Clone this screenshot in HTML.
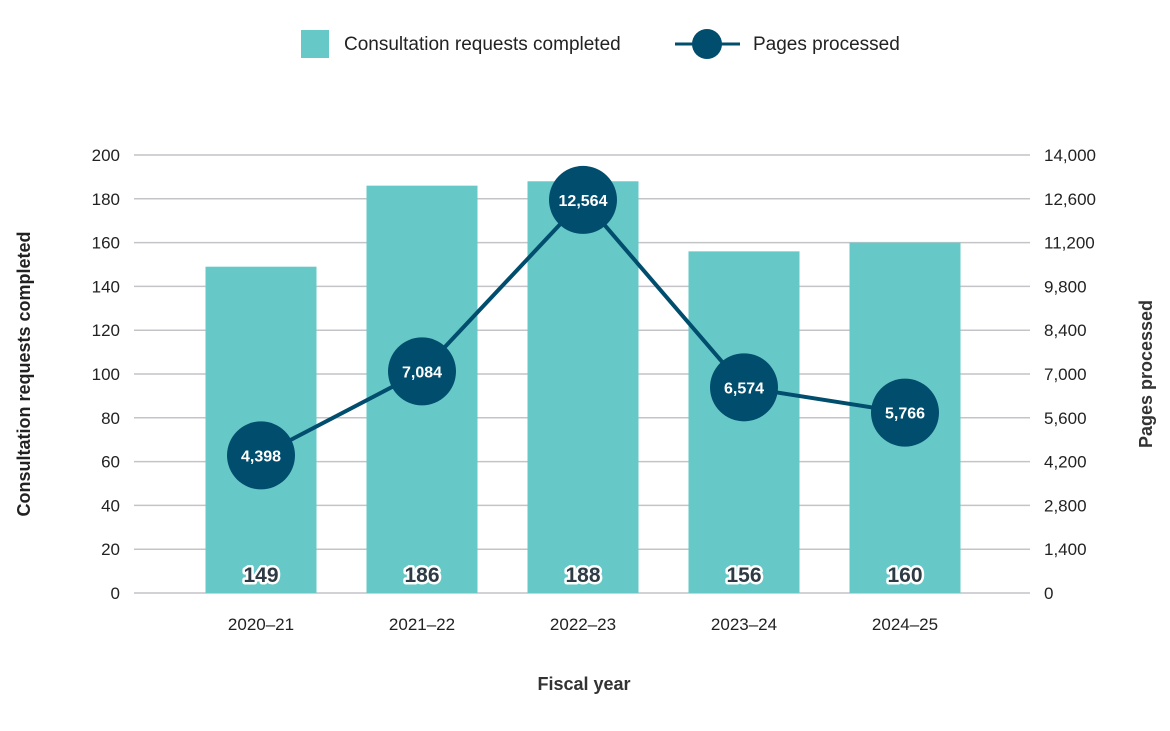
<!DOCTYPE html>
<html><head><meta charset="utf-8"><style>
body{margin:0;background:#fff;font-family:"Liberation Sans",sans-serif;}
svg text{font-family:"Liberation Sans",sans-serif;}
</style></head><body>
<svg id="chart" width="1170" height="726" xmlns="http://www.w3.org/2000/svg">
<g id="legend">
 <g>
  <rect x="301" y="30" width="28" height="28" fill="#66c9c7"/>
  <text x="344" y="50" font-size="19" fill="#222">Consultation requests completed</text>
 </g>
 <g>
  <line x1="675" y1="44" x2="740" y2="44" stroke="#004d6e" stroke-width="3"/>
  <circle cx="707" cy="44" r="15" fill="#004d6e"/>
  <text x="753" y="50" font-size="19" fill="#222">Pages processed</text>
 </g>
</g>
<g id="grid"></g><g id="bars"></g><g id="line"></g><g id="labels"></g>
<text x="30" y="374" transform="rotate(-90 30 374)" text-anchor="middle" font-size="18" font-weight="bold" fill="#222">Consultation requests completed</text>
<text x="1152" y="374" transform="rotate(-90 1152 374)" text-anchor="middle" font-size="18" font-weight="bold" fill="#333">Pages processed</text>
<text x="584" y="690" text-anchor="middle" font-size="18" font-weight="bold" fill="#333">Fiscal year</text>
</svg>
<script>
const categories=["2020–21","2021–22","2022–23","2023–24","2024–25"];
const requests=[149,186,188,156,160];
const pages=[4398,7084,12564,6574,5766];
const leftTicks=[0,20,40,60,80,100,120,140,160,180,200];
const rightTicks=[0,1400,2800,4200,5600,7000,8400,9800,11200,12600,14000];
const NS="http://www.w3.org/2000/svg";
const y0=593,y1=155,xL=134,xR=1030;
const yL=v=>y0-(v/200)*(y0-y1);
const yR=v=>y0-(v/14000)*(y0-y1);
const xC=i=>261+161*i;
function mk(p,t,a,txt){const e=document.createElementNS(NS,t);for(const k in a)e.setAttribute(k,a[k]);if(txt!==undefined)e.textContent=txt;document.getElementById(p).appendChild(e);return e;}
leftTicks.forEach((t,i)=>{
 const g=mk('grid','line',{x1:xL,x2:xR,y1:yL(t),y2:yL(t),stroke:'#c4c4c8','stroke-width':1.5});
 
 
 const l=mk('grid','text',{x:120,y:yL(t)+6,'text-anchor':'end','font-size':17,fill:'#222'},t);
 
 
});
rightTicks.forEach(t=>{
 const l=mk('grid','text',{x:1044,y:yR(t)+6,'font-size':17,fill:'#222'},t.toLocaleString('en-US'));
 
 
});
categories.forEach((c,i)=>{
 const b=mk('bars','rect',{x:xC(i)-55.5,y:yL(requests[i]),width:111,height:y0-yL(requests[i]),fill:'#66c9c7'});
 
 
 const t=mk('labels','text',{x:xC(i),y:582,'text-anchor':'middle','font-size':21,'font-weight':'bold',fill:'#2e3a44',stroke:'#fff','stroke-width':5,'paint-order':'stroke','stroke-linejoin':'round'},requests[i]);
 
 
 const x=mk('labels','text',{x:xC(i),y:630,'text-anchor':'middle','font-size':17,fill:'#222'},c);
 
 
});
const pl=mk('line','polyline',{points:pages.map((v,i)=>xC(i)+','+yR(v)).join(' '),fill:'none',stroke:'#004d6e','stroke-width':4});


pages.forEach((v,i)=>{
 const c=mk('line','circle',{cx:xC(i),cy:yR(v),r:34,fill:'#004d6e'});
 
 
 const t=mk('line','text',{x:xC(i),y:yR(v)+6,'text-anchor':'middle','font-size':16,'font-weight':'bold',fill:'#fff'},v.toLocaleString('en-US'));
 
 
});
</script>
</body></html>
